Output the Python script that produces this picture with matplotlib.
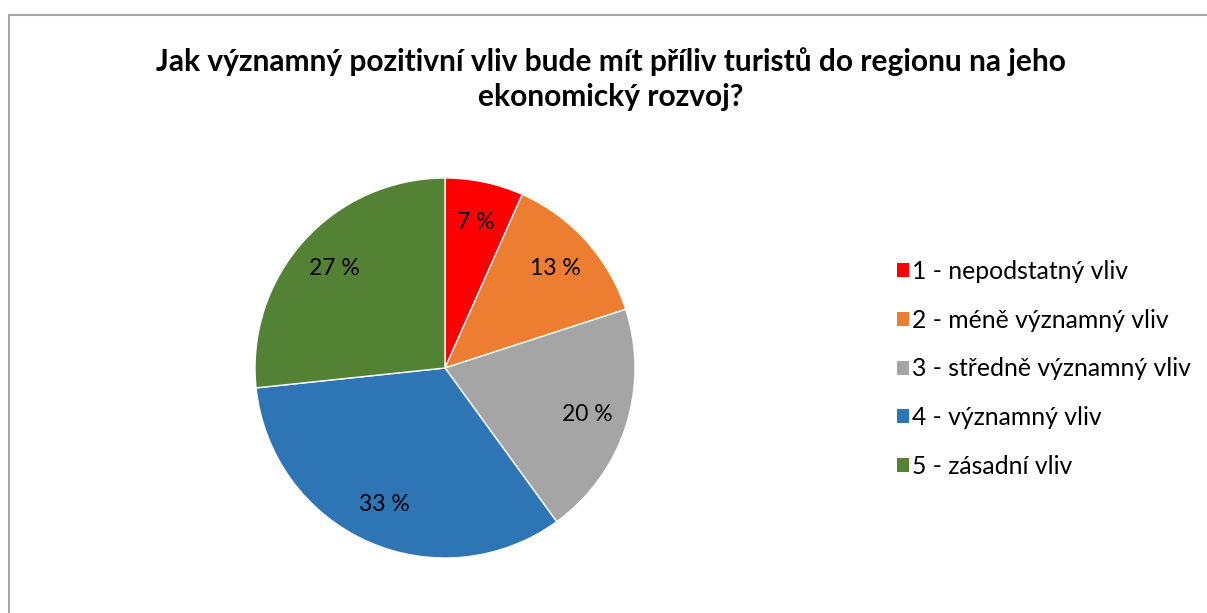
import matplotlib.pyplot as plt
from matplotlib.patches import Rectangle

# data (shares in %)
categories = ["1 - nepodstatný vliv", "2 - méně významný vliv", "3 - středně významný vliv",
              "4 - významný vliv", "5 - zásadní vliv"]
shares = [6.67, 13.33, 20.0, 33.33, 26.67]
colors = ["#FF0000", "#ED7D31", "#A5A5A5", "#2E75B6", "#548235"]
title = "Jak významný pozitivní vliv bude mít příliv turistů do regionu na jeho\nekonomický rozvoj?"

plt.rcParams['font.family'] = ['Lato', 'DejaVu Sans']

W, H = 1207, 613
fig = plt.figure(figsize=(W / 100, H / 100), dpi=100)

# chart frame (gray border, cut off on right/bottom)
fig.patches.append(Rectangle((8.5 / W, -0.1), 1.2, (H - 15.5) / H + 0.1, transform=fig.transFigure,
                             fill=False, edgecolor="#A6A6A6", linewidth=1.5))

fig.text(611 / W, 1 - 79 / H, title, ha="center", va="center", fontsize=21.5,
         fontweight="bold", linespacing=1.3)

# pie axes: center (445, 368), radius 190 px
cx, cy, r = 445, 368, 190
ax = fig.add_axes([(cx - r) / W, 1 - (cy + r) / H, 2 * r / W, 2 * r / H])
wedges, texts, autotexts = ax.pie(shares, colors=colors, startangle=90, counterclock=False,
                                  autopct=lambda p: f"{p:.0f} %", pctdistance=0.785,
                                  wedgeprops=dict(edgecolor="white", linewidth=1),
                                  textprops=dict(fontsize=16.5, color="#000000"), radius=1)
ax.set_xlim(-1, 1)
ax.set_ylim(-1, 1)
ax.set_aspect("equal")

leg = fig.legend(wedges, categories, loc="upper left", bbox_to_anchor=(897 / W, 1 - 260 / H),
                 frameon=False, fontsize=17.8, handlelength=0.49, handleheight=0.49,
                 handletextpad=0.12, labelspacing=1.04, borderpad=0, borderaxespad=0)
for h in leg.legend_handles:
    h.set_edgecolor("none")

fig.savefig("out.png", dpi=100)
